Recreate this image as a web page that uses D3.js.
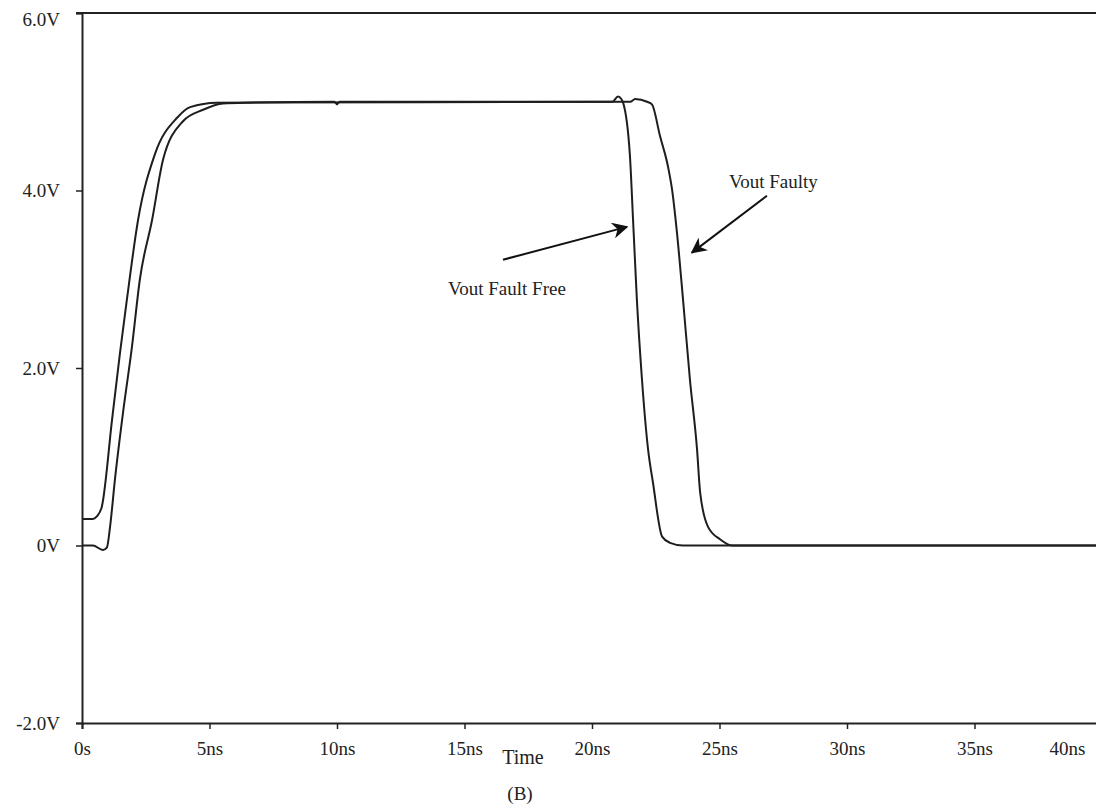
<!DOCTYPE html>
<html>
<head>
<meta charset="utf-8">
<script src="https://cdn.jsdelivr.net/npm/d3@7"></script>
<style>
  body { margin: 0; background: #fff; }
  svg { display: block; }
  text { font-family: "Liberation Serif", "Times New Roman", serif; fill: #222; }
</style>
</head>
<body>
<svg></svg>
<script>
// ---- data (time in ns, voltage in V) ----
const faultFreeT = [0, 0.43, 0.82, 0.98, 1.10, 1.29, 1.61, 1.96, 2.27, 2.75, 3.18, 3.96, 4.75, 5.53, 6.47,
                    9.9, 10.0, 10.1, 20.8, 21.02, 21.15, 21.22, 21.49, 21.61, 21.76, 21.96, 22.20, 22.39,
                    22.75, 23.06, 23.57, 40];
const faultFreeV = [0, 0, -0.05, -0.02, 0.21, 0.74, 1.50, 2.24, 3.00, 3.67, 4.35, 4.78, 4.91, 4.98, 4.99,
                    5.0, 4.97, 5.0, 5.0, 5.06, 5.03, 4.99, 4.38, 3.67, 2.77, 1.87, 1.08, 0.71,
                    0.10, 0.03, 0, 0];

const faultyT = [0, 0.43, 0.59, 0.78, 1.18, 1.49, 1.76, 2.20, 2.86, 3.73, 4.24, 5.29,
                 21.5, 21.69, 22.16, 22.35, 22.67, 22.98, 23.14, 23.33, 23.57, 23.84, 24.12, 24.24,
                 24.55, 25.02, 25.49, 40];
const faultyV = [0.30, 0.30, 0.33, 0.44, 1.42, 2.17, 2.77, 3.67, 4.41, 4.82, 4.94, 4.99,
                 5.0, 5.03, 5.0, 4.97, 4.61, 4.27, 4.01, 3.53, 2.77, 1.87, 1.08, 0.60,
                 0.21, 0.07, 0, 0];

const xTicks = [0, 5, 10, 15, 20, 25, 30, 35, 40];
const xTickLabels = ['0s', '5ns', '10ns', '15ns', '20ns', '25ns', '30ns', '35ns', '40ns'];
const yTicks = [-2, 0, 2, 4, 6];
const yTickLabels = ['-2.0V', '0V', '2.0V', '4.0V', '6.0V'];

// ---- layout ----
const size = {w: 1096, h: 808};
const margin = {t: 13, l: 82, b: 85};
const svg = d3.select('svg').attr('width', size.w).attr('height', size.h);

const x = d3.scaleLinear().domain([0, 40]).range([margin.l, 1102]);
const y = d3.scaleLinear().domain([-2, 6]).range([size.h - margin.b, margin.t]);

// frame: top line
svg.append('line')
    .attr('x1', x(0) - 6).attr('x2', x(40))
    .attr('y1', y(6)).attr('y2', y(6))
    .attr('stroke', '#222').attr('stroke-width', 2);

// y axis
const yAxis = svg.append('g')
    .attr('transform', 'translate(' + x(0) + ',0)')
    .call(d3.axisLeft(y).tickValues(yTicks)
        .tickFormat((d, i) => yTickLabels[i])
        .tickSize(6).tickPadding(16));
yAxis.select('.domain').attr('stroke', '#222').attr('stroke-width', 2);
yAxis.selectAll('.tick line').attr('stroke', '#222').attr('stroke-width', 1.5);
yAxis.selectAll('.tick text')
    .attr('font-size', 19).attr('font-family', null).attr('dy', '0.32em');
// top label sits just under the frame line
yAxis.selectAll('.tick text').filter(d => d === 6).attr('dy', '0.65em');

// x axis
const xAxis = svg.append('g')
    .attr('transform', 'translate(0,' + y(-2) + ')')
    .call(d3.axisBottom(x).tickValues(xTicks)
        .tickFormat((d, i) => xTickLabels[i])
        .tickSize(6).tickPadding(13));
xAxis.select('.domain').attr('stroke', '#222').attr('stroke-width', 2);
xAxis.selectAll('.tick line').attr('stroke', '#222').attr('stroke-width', 1.5);
xAxis.selectAll('.tick text').attr('font-size', 19).attr('font-family', null);
// last label sits inside the page, tick itself runs off the edge
xAxis.selectAll('.tick text').filter(d => d === 40).attr('dx', -35);

// axis title and caption
svg.append('text').attr('x', 523).attr('y', 764)
    .attr('text-anchor', 'middle').attr('font-size', 20).text('Time');
svg.append('text').attr('x', 520).attr('y', 800)
    .attr('text-anchor', 'middle').attr('font-size', 19).text('(B)');

// curves
const line = d3.line()
    .x(d => x(d[0]))
    .y(d => y(d[1]))
    .curve(d3.curveMonotoneX);

const series = [
    {name: 'faultFree', pts: d3.zip(faultFreeT, faultFreeV)},
    {name: 'faulty', pts: d3.zip(faultyT, faultyV)}
];

svg.append('g').selectAll('path')
    .data(series)
    .enter()
    .append('path')
    .attr('d', d => line(d.pts))
    .attr('fill', 'none')
    .attr('stroke', '#1e1e1e')
    .attr('stroke-width', 2);

// annotations
const defs = svg.append('defs');
defs.append('marker')
    .attr('id', 'arrow')
    .attr('viewBox', '0 0 10 10')
    .attr('refX', 9).attr('refY', 5)
    .attr('markerWidth', 16).attr('markerHeight', 16)
    .attr('markerUnits', 'userSpaceOnUse')
    .attr('orient', 'auto')
    .append('path')
    .attr('d', 'M0,0 L10,5 L0,10 L3,5 Z')
    .attr('fill', '#111');

const notes = [
    {label: 'Vout Fault Free', tx: 448, ty: 295, from: [16.51, 3.22], to: [21.37, 3.59]},
    {label: 'Vout Faulty', tx: 729, ty: 188, from: [26.86, 3.94], to: [23.92, 3.30]}
];

notes.forEach(function (n) {
    svg.append('line')
        .attr('x1', x(n.from[0])).attr('y1', y(n.from[1]))
        .attr('x2', x(n.to[0])).attr('y2', y(n.to[1]))
        .attr('stroke', '#111').attr('stroke-width', 2)
        .attr('marker-end', 'url(#arrow)');
    svg.append('text')
        .attr('x', n.tx).attr('y', n.ty)
        .attr('font-size', 19)
        .text(n.label);
});
</script>
</body>
</html>
